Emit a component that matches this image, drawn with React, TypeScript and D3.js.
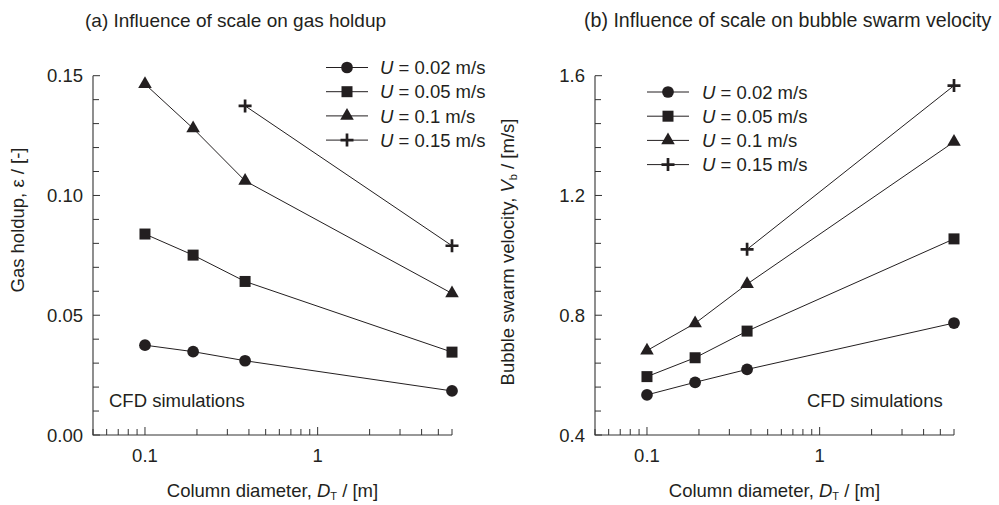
import React from "react";
import * as d3 from "d3";

// ---------- data ----------
const diameters = [0.1, 0.19, 0.38, 6];
const diametersHigh = [0.38, 6];

const holdupU002 = [0.0375, 0.0348, 0.031, 0.0184];
const holdupU005 = [0.0839, 0.0751, 0.0641, 0.0346];
const holdupU01 = [0.1465, 0.128, 0.1061, 0.0591];
const holdupU015 = [0.1374, 0.079];

const velocityU002 = [0.534, 0.576, 0.619, 0.774];
const velocityU005 = [0.595, 0.658, 0.747, 1.055];
const velocityU01 = [0.682, 0.773, 0.904, 1.379];
const velocityU015 = [1.02, 1.567];

const seriesLabels = ["0.02 m/s", "0.05 m/s", "0.1 m/s", "0.15 m/s"];
const seriesMarkers = ["circle", "square", "triangle", "plus"];

const holdupTicks = [0, 0.05, 0.1, 0.15];
const holdupTickLabels = ["0.00", "0.05", "0.10", "0.15"];
const velocityTicks = [0.4, 0.8, 1.2, 1.6];
const velocityTickLabels = ["0.4", "0.8", "1.2", "1.6"];
const xMajorTicks = [0.1, 1];
const xMajorLabels = ["0.1", "1"];

// ---------- style ----------
const FONT = "'Liberation Sans', Arial, Helvetica, sans-serif";
const FS = 18.5;
const INK = "#231f20";
const TOP = 75.7;
const BOTTOM = 435;

function Marker({ type, x, y }: { type: string; x: number; y: number }) {
  if (type === "plus") {
    const a = 6.5;
    return (
      <path
        d={`M${x - a},${y}H${x + a}M${x},${y - a}V${y + a}`}
        stroke={INK}
        strokeWidth={2.7}
        fill="none"
      />
    );
  }
  const sym =
    type === "circle" ? d3.symbolCircle : type === "square" ? d3.symbolSquare : d3.symbolTriangle;
  const size = type === "circle" ? 108 : type === "square" ? 121 : 80;
  const p = d3.symbol().type(sym).size(size)() as string;
  return <path d={p} transform={`translate(${x},${y})`} fill={INK} />;
}

type PanelProps = {
  left: number;
  right: number;
  yDomain: [number, number];
  yTicks: number[];
  yTickLabels: string[];
  yMinorStep: number;
  series: { xs: number[]; ys: number[]; marker: string }[];
};

function Panel({ left, right, yDomain, yTicks, yTickLabels, yMinorStep, series }: PanelProps) {
  const x = d3.scaleLog().domain([0.05, 6]).range([left, right]);
  const y = d3.scaleLinear().domain(yDomain).range([BOTTOM, TOP]);
  const xMinor = x.ticks().filter((t) => !xMajorTicks.some((m) => Math.abs(m - t) < 1e-9));
  const yMinor = d3
    .range(yDomain[0], yDomain[1] + yMinorStep / 2, yMinorStep)
    .filter((t) => !yTicks.some((m) => Math.abs(m - t) < 1e-9));
  const line = d3
    .line<[number, number]>()
    .x((d) => x(d[0]))
    .y((d) => y(d[1]));
  return (
    <g>
      {/* axes */}
      <path d={`M${left},${TOP}V${BOTTOM}H${right}`} stroke="#333" strokeWidth={1.1} fill="none" />
      {yTicks.map((t, i) => (
        <g key={"yt" + i}>
          <line x1={left} x2={left + 7} y1={y(t)} y2={y(t)} stroke="#333" strokeWidth={1} />
          <text
            x={left - 10}
            y={y(t)}
            dy="0.36em"
            textAnchor="end"
            fontSize={FS}
            fontFamily={FONT}
            fill={INK}
          >
            {yTickLabels[i]}
          </text>
        </g>
      ))}
      {yMinor.map((t, i) => (
        <line key={"ym" + i} x1={left} x2={left + 6} y1={y(t)} y2={y(t)} stroke="#333" strokeWidth={1} />
      ))}
      {xMajorTicks.map((t, i) => (
        <g key={"xt" + i}>
          <line x1={x(t)} x2={x(t)} y1={BOTTOM} y2={BOTTOM - 8} stroke="#333" strokeWidth={1} />
          <text
            x={x(t)}
            y={BOTTOM + 27}
            textAnchor="middle"
            fontSize={FS}
            fontFamily={FONT}
            fill={INK}
          >
            {xMajorLabels[i]}
          </text>
        </g>
      ))}
      {xMinor.map((t, i) => (
        <line key={"xm" + i} x1={x(t)} x2={x(t)} y1={BOTTOM} y2={BOTTOM - 6} stroke="#333" strokeWidth={1} />
      ))}
      {/* series */}
      {series.map((s, i) => {
        const pts = s.xs.map((d, j) => [d, s.ys[j]] as [number, number]);
        return (
          <g key={"s" + i}>
            <path d={line(pts) as string} stroke={INK} strokeWidth={1} fill="none" />
            {pts.map((p, j) => (
              <Marker key={j} type={s.marker} x={x(p[0])} y={y(p[1])} />
            ))}
          </g>
        );
      })}
      <text
        x={(left + right) / 2}
        y={497}
        textAnchor="middle"
        fontSize={FS}
        fontFamily={FONT}
        fill={INK}
      >
        Column diameter, <tspan fontStyle="italic">D</tspan>
        <tspan fontSize={11} dy={3}>T</tspan>
        <tspan dy={-3}> / [m]</tspan>
      </text>
    </g>
  );
}

function Legend({ lineX0, textX, rowY0 }: { lineX0: number; textX: number; rowY0: number }) {
  return (
    <g>
      {seriesLabels.map((lab, i) => {
        const yy = rowY0 + i * 24.2;
        return (
          <g key={i}>
            <line x1={lineX0} x2={lineX0 + 42} y1={yy} y2={yy} stroke={INK} strokeWidth={1} />
            <Marker type={seriesMarkers[i]} x={lineX0 + 21} y={yy} />
            <text x={textX} y={yy} dy="0.36em" fontSize={FS} fontFamily={FONT} fill={INK}>
              <tspan fontStyle="italic">U</tspan> = {lab}
            </text>
          </g>
        );
      })}
    </g>
  );
}

export default function App() {
  const holdupSeries = [
    { xs: diameters, ys: holdupU002, marker: "circle" },
    { xs: diameters, ys: holdupU005, marker: "square" },
    { xs: diameters, ys: holdupU01, marker: "triangle" },
    { xs: diametersHigh, ys: holdupU015, marker: "plus" },
  ];
  const velocitySeries = [
    { xs: diameters, ys: velocityU002, marker: "circle" },
    { xs: diameters, ys: velocityU005, marker: "square" },
    { xs: diameters, ys: velocityU01, marker: "triangle" },
    { xs: diametersHigh, ys: velocityU015, marker: "plus" },
  ];
  return (
    <div style={{ position: "absolute", left: 0, top: 0 }}>
      <svg width={999} height={505} style={{ display: "block", background: "#fff" }}>
        <text x={85} y={27} fontSize={19} fontFamily={FONT} fill={INK}>
          (a) Influence of scale on gas holdup
        </text>
        <text x={584} y={27} fontSize={19.6} fontFamily={FONT} fill={INK}>
          (b) Influence of scale on bubble swarm velocity
        </text>

        <Panel
          left={93}
          right={452}
          yDomain={[0, 0.15]}
          yTicks={holdupTicks}
          yTickLabels={holdupTickLabels}
          yMinorStep={0.01}
          series={holdupSeries}
        />
        <Panel
          left={595}
          right={954}
          yDomain={[0.4, 1.6]}
          yTicks={velocityTicks}
          yTickLabels={velocityTickLabels}
          yMinorStep={0.08}
          series={velocitySeries}
        />

        <Legend lineX0={326} textX={380} rowY0={67.5} />
        <Legend lineX0={647} textX={702} rowY0={92} />

        <text x={109} y={407} fontSize={FS} fontFamily={FONT} fill={INK}>
          CFD simulations
        </text>
        <text x={807} y={407} fontSize={FS} fontFamily={FONT} fill={INK}>
          CFD simulations
        </text>

        <text
          transform="translate(23.5,220) rotate(-90)"
          textAnchor="middle"
          fontSize={FS}
          fontFamily={FONT}
          fill={INK}
        >
          Gas holdup, ε / [-]
        </text>
        <text
          transform="translate(514,252) rotate(-90)"
          textAnchor="middle"
          fontSize={FS}
          fontFamily={FONT}
          fill={INK}
        >
          Bubble swarm velocity, <tspan fontStyle="italic">V</tspan>
          <tspan fontSize={11} dy={3}>b</tspan>
          <tspan dy={-3}> / [m/s]</tspan>
        </text>
      </svg>
    </div>
  );
}
